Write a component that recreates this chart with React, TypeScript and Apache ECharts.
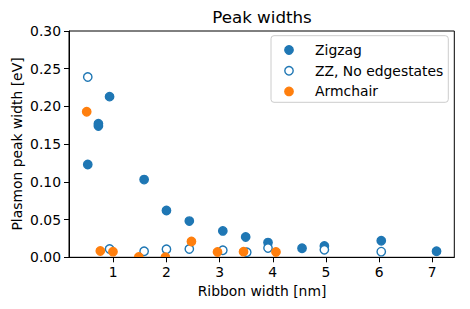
import React, { useEffect, useRef } from "react";
import * as echarts from "echarts";

const zigzagX = [0.52, 0.72, 0.72, 0.93, 1.58, 2.0, 2.43, 3.06, 3.49, 3.91, 4.55, 4.97, 6.04, 7.08];
const zigzagY = [0.123, 0.174, 0.177, 0.213, 0.103, 0.062, 0.048, 0.035, 0.027, 0.0195, 0.012, 0.015, 0.022, 0.008];

const zzNoEdgeX = [0.52, 0.93, 1.58, 2.0, 2.43, 3.06, 3.51, 3.91, 4.97, 6.04];
const zzNoEdgeY = [0.239, 0.011, 0.008, 0.0106, 0.011, 0.0093, 0.0066, 0.0124, 0.010, 0.0075];

const armchairX = [0.5, 0.756, 0.994, 1.48, 1.98, 2.47, 2.96, 3.45, 4.06];
const armchairY = [0.193, 0.0084, 0.0075, 0.0004, 0.0, 0.021, 0.007, 0.0075, 0.007];

const xTicks = [1, 2, 3, 4, 5, 6, 7];
const seriesNames = ["Zigzag", "ZZ, No edgestates", "Armchair"];

const BLUE = "#1f77b4";
const ORANGE = "#ff7f0e";
const FONT = "DejaVu Sans";

function pairs(xs: number[], ys: number[]) {
  return xs.map((x, i) => [x, ys[i]]);
}

export default function App() {
  const ref = useRef<HTMLDivElement>(null);
  useEffect(() => {
    if (!ref.current) return;
    const chart = echarts.init(ref.current, null, { renderer: "svg" });
    const legendRows = [50, 70.7, 91.4];
    const legendStyles = [
      { fill: BLUE, stroke: BLUE },
      { fill: "#fff", stroke: BLUE },
      { fill: ORANGE, stroke: ORANGE },
    ];
    chart.setOption({
      animation: false,
      backgroundColor: "#fff",
      textStyle: { fontFamily: FONT },
      grid: {
        left: 69,
        top: 31,
        right: 15.7,
        bottom: 51.7,
        show: true,
        borderColor: "#000",
        borderWidth: 1,
        backgroundColor: "transparent",
      },
      xAxis: {
        type: "value",
        min: 0.167,
        max: 7.414,
        z: 10,
        splitLine: { show: false },
        axisLine: { show: true, onZero: false, lineStyle: { color: "#000", width: 1 } },
        axisTick: { show: true, length: 5, customValues: xTicks, lineStyle: { color: "#000" } },
        axisLabel: {
          customValues: xTicks,
          color: "#000",
          fontSize: 13.9,
          fontFamily: FONT,
          margin: 8,
        },
      },
      yAxis: {
        type: "value",
        min: 0,
        max: 0.3,
        interval: 0.05,
        z: 10,
        splitLine: { show: false },
        axisLine: { show: true, onZero: false, lineStyle: { color: "#000", width: 1 } },
        axisTick: { show: true, length: 5, lineStyle: { color: "#000" } },
        axisLabel: {
          color: "#000",
          fontSize: 13.9,
          fontFamily: FONT,
          margin: 8,
          formatter: (v: number) => v.toFixed(2),
        },
      },
      series: [
        {
          name: seriesNames[0],
          type: "scatter",
          data: pairs(zigzagX, zigzagY),
          symbol: "circle",
          symbolSize: 8.4,
          itemStyle: { color: BLUE, borderColor: BLUE, borderWidth: 1.4, opacity: 1 },
        },
        {
          name: seriesNames[1],
          type: "scatter",
          data: pairs(zzNoEdgeX, zzNoEdgeY),
          symbol: "circle",
          symbolSize: 8.4,
          itemStyle: { color: "#fff", borderColor: BLUE, borderWidth: 1.4, opacity: 1 },
        },
        {
          name: seriesNames[2],
          type: "scatter",
          data: pairs(armchairX, armchairY),
          symbol: "circle",
          symbolSize: 8.4,
          itemStyle: { color: ORANGE, borderColor: ORANGE, borderWidth: 1.4, opacity: 1 },
        },
      ],
      graphic: [
        {
          type: "rect",
          shape: { x: 69, y: 257.8, width: 386, height: 8 },
          style: { fill: "#fff" },
          z: 5,
        },
        {
          type: "text",
          x: 262,
          y: 16.7,
          style: {
            text: "Peak widths",
            fontSize: 16.7,
            fontFamily: FONT,
            fill: "#000",
            align: "center",
            verticalAlign: "middle",
          },
        },
        {
          type: "text",
          x: 262,
          y: 291.2,
          style: {
            text: "Ribbon width [nm]",
            fontSize: 13.9,
            fontFamily: FONT,
            fill: "#000",
            align: "center",
            verticalAlign: "middle",
          },
        },
        {
          type: "text",
          x: 17,
          y: 144,
          rotation: Math.PI / 2,
          style: {
            text: "Plasmon peak width [eV]",
            fontSize: 13.9,
            fontFamily: FONT,
            fill: "#000",
            align: "center",
            verticalAlign: "middle",
          },
        },
        {
          type: "rect",
          shape: { x: 271, y: 35.7, width: 177.3, height: 66.6, r: 3 },
          style: { fill: "rgba(255,255,255,0.8)", stroke: "#cccccc", lineWidth: 1 },
          z: 100,
        },
        ...seriesNames.map((name, i) => ({
          type: "circle",
          shape: { cx: 289, cy: legendRows[i], r: 4.2 },
          style: { fill: legendStyles[i].fill, stroke: legendStyles[i].stroke, lineWidth: 1.4 },
          z: 101,
        })),
        ...seriesNames.map((name, i) => ({
          type: "text",
          x: 315,
          y: legendRows[i],
          style: {
            text: name,
            fontSize: 13.9,
            fontFamily: FONT,
            fill: "#000",
            align: "left",
            verticalAlign: "middle",
          },
          z: 101,
        })),
      ],
    });
    return () => chart.dispose();
  }, []);
  return <div ref={ref} style={{ width: 470, height: 309, position: "absolute", left: 0, top: 0 }} />;
}
